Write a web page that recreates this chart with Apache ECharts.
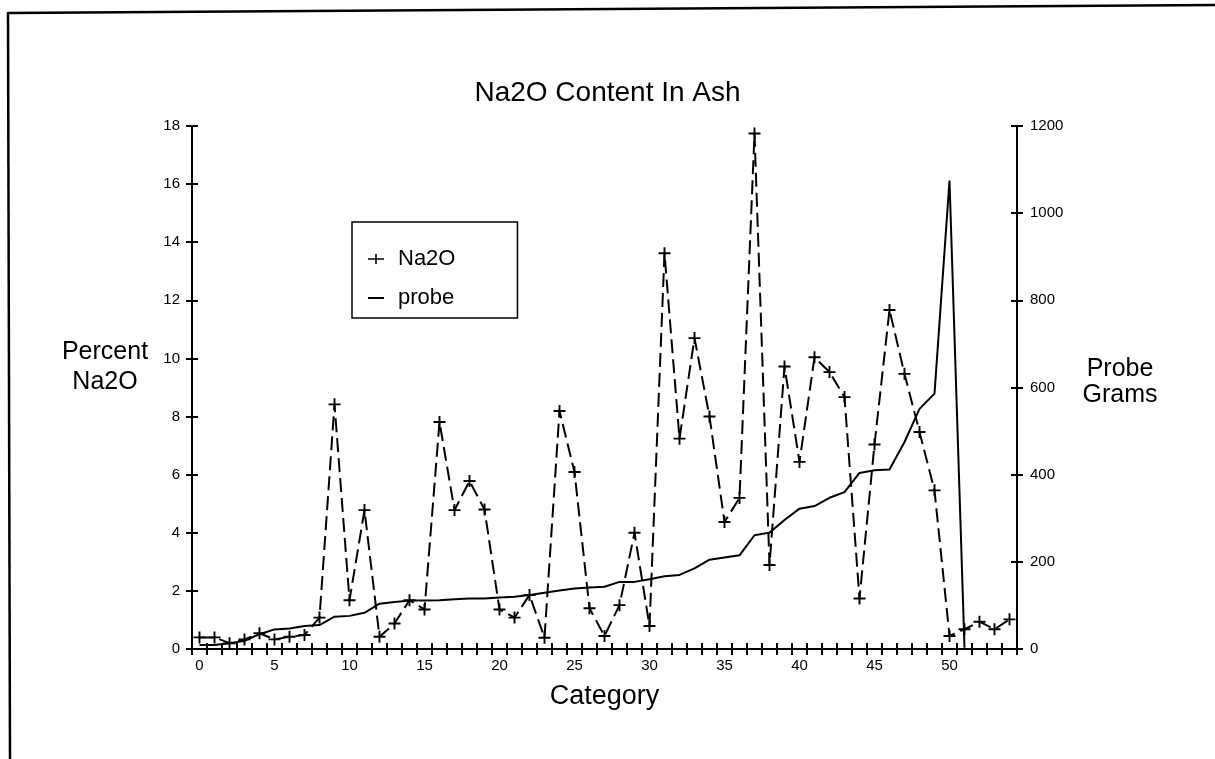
<!DOCTYPE html>
<html>
<head>
<meta charset="utf-8">
<script src="https://cdn.jsdelivr.net/npm/echarts@6/dist/echarts.min.js"></script>
<style>html,body{margin:0;padding:0;background:#fff;}#c{width:1215px;height:759px;}</style>
</head>
<body>
<div id="c"></div>
<script>
var categories = ['0','1','2','3','4','5','6','7','8','9','10','11','12','13','14','15','16','17','18','19','20','21','22','23','24','25','26','27','28','29','30','31','32','33','34','35','36','37','38','39','40','41','42','43','44','45','46','47','48','49','50','51','52','53','54'];
var na2o = [0.4,0.4,0.2,0.33,0.54,0.33,0.42,0.48,1.08,8.42,1.68,4.78,0.42,0.88,1.68,1.36,7.81,4.78,5.78,4.8,1.36,1.08,1.86,0.39,8.19,6.09,1.4,0.45,1.51,4.0,0.79,13.62,7.24,10.7,8.0,4.37,5.2,17.74,2.89,9.72,6.44,10.04,9.53,8.67,1.74,7.04,11.67,9.47,7.47,5.46,0.45,0.68,0.94,0.68,1.02];
var probe = [9,9,13,19,34,45,47,53,55,74,76,83,104,108,111,111,112,114,116,116,118,120,124,129,134,139,141,143,154,154,160,167,170,185,205,210,215,261,267,296,322,328,347,360,404,410,412,475,551,586,1075,3,null,null,null];
var leftTicks = {min:0, max:18, interval:2};
var rightTicks = {min:0, max:1200, interval:200};

var FONT = '"Liberation Sans", Arial, sans-serif';
var plus = 'path://M4.2,0 H5.8 V10 H4.2 Z M0,4.2 H10 V5.8 H0 Z';
var legendPlus = 'path://M0,4.2 H16 V5.8 H0 Z M7.2,0 H8.8 V10 H7.2 Z';
var legendLine = 'path://M0,0 H16 V2 H0 Z';
var chart = echarts.init(document.getElementById('c'));
var lineAxis = {show:true, lineStyle:{color:'#000', width:2}};
chart.setOption({
  backgroundColor:'#fff',
  animation:false,
  title:{text:'Na2O Content In Ash', left:'center', top:74, textStyle:{fontFamily:FONT, fontSize:28, fontWeight:'normal', color:'#000'}},
  legend:{
    orient:'vertical', left:352, top:222, padding:[26,62,9,16], itemGap:17,
    itemWidth:16, itemHeight:14, symbolKeepAspect:true, borderColor:'#000', borderWidth:1.5,
    textStyle:{fontFamily:FONT, fontSize:22, color:'#000', padding:[0,0,0,9]},
    data:[{name:'Na2O', icon:legendPlus},{name:'probe', icon:legendLine}]
  },
  grid:{left:192, right:198, top:126, bottom:110, containLabel:false},
  xAxis:[
    {type:'category', data:categories, boundaryGap:true,
     name:'Category', nameLocation:'middle', nameGap:34,
     nameTextStyle:{fontFamily:FONT, fontSize:27, color:'#000'},
     axisLine:lineAxis,
     axisTick:{show:true, interval:0, inside:false, length:6, lineStyle:{color:'#000', width:2}},
     axisLabel:{interval:4, margin:9, fontFamily:FONT, fontSize:15, color:'#000'},
     splitLine:{show:false}},
    {type:'category', data:categories, boundaryGap:true, position:'bottom',
     axisLine:{show:false},
     axisTick:{show:true, interval:0, inside:true, length:6, lineStyle:{color:'#000', width:2}},
     axisLabel:{show:false}, splitLine:{show:false}}
  ],
  yAxis:[
    {type:'value', position:'left', min:leftTicks.min, max:leftTicks.max, interval:leftTicks.interval,
     axisLine:lineAxis,
     axisTick:{show:true, inside:false, length:6, lineStyle:{color:'#000', width:2}},
     axisLabel:{margin:12, fontFamily:FONT, fontSize:15, color:'#000'},
     splitLine:{show:false}},
    {type:'value', position:'right', min:rightTicks.min, max:rightTicks.max, interval:rightTicks.interval,
     axisLine:lineAxis,
     axisTick:{show:true, inside:false, length:6, lineStyle:{color:'#000', width:2}},
     axisLabel:{margin:13, fontFamily:FONT, fontSize:15, color:'#000', formatter:function(v){return String(v);}},
     splitLine:{show:false}},
    {type:'value', position:'left', min:leftTicks.min, max:leftTicks.max, interval:leftTicks.interval,
     axisLine:{show:false}, axisLabel:{show:false}, splitLine:{show:false},
     axisTick:{show:true, inside:true, length:6, lineStyle:{color:'#000', width:2}}},
    {type:'value', position:'right', min:rightTicks.min, max:rightTicks.max, interval:rightTicks.interval,
     axisLine:{show:false}, axisLabel:{show:false}, splitLine:{show:false},
     axisTick:{show:true, inside:true, length:6, lineStyle:{color:'#000', width:2}}}
  ],
  series:[
    {name:'Na2O', type:'line', data:na2o, xAxisIndex:0, yAxisIndex:0,
     symbol:plus, symbolSize:12, showSymbol:true, showAllSymbol:true,
     lineStyle:{color:'#000', width:2, type:[14,6]},
     itemStyle:{color:'#000', borderWidth:0}},
    {name:'probe', type:'line', data:probe, xAxisIndex:0, yAxisIndex:1,
     symbol:'none', connectNulls:false,
     lineStyle:{color:'#000', width:2},
     itemStyle:{color:'#000'}}
  ],
  graphic:[
    {type:'line', shape:{x1:8, y1:13, x2:1215, y2:5}, style:{stroke:'#000', lineWidth:2.5}},
    {type:'line', shape:{x1:8, y1:12, x2:10, y2:759}, style:{stroke:'#000', lineWidth:2.5}},
    {type:'text', style:{text:'Percent\nNa2O', x:105, y:367, align:'center', verticalAlign:'middle', font:'25px ' + FONT, lineHeight:30, fill:'#000'}},
    {type:'text', style:{text:'Probe\nGrams', x:1120, y:382, align:'center', verticalAlign:'middle', font:'25px ' + FONT, lineHeight:26, fill:'#000'}}
  ]
});
</script>
</body>
</html>
